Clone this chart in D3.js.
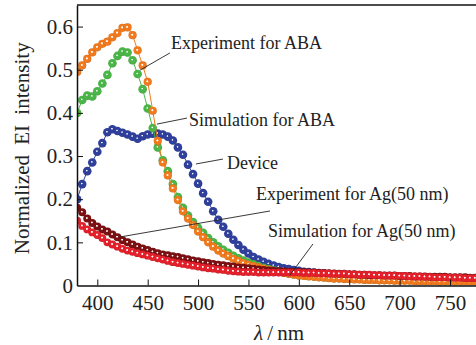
<!DOCTYPE html>
<html>
<head>
<meta charset="utf-8">
<script src="https://cdn.jsdelivr.net/npm/d3@7"></script>
<style>
  body { margin: 0; background: #fff; }
  svg { display: block; font-family: "Liberation Serif", "DejaVu Serif", serif; }
</style>
</head>
<body>
<script>
// wavelength grid (nm)
var wavelengths = [380,385,390,395,400,405,410,415,420,425,430,435,440,445,450,455,460,465,470,475,
  480,485,490,495,500,505,510,515,520,525,530,535,540,545,550,555,560,565,570,575,
  580,585,590,595,600,605,610,615,620,625,630,635,640,645,650,655,660,665,670,675,
  680,685,690,695,700,705,710,715,720,725,730,735,740,745,750,755,760,765,770,775];

var expABA = [0.495,0.51,0.525,0.54,0.552,0.56,0.565,0.575,0.585,0.597,0.598,0.58,0.545,0.51,0.472,0.405,0.335,0.285,0.255,0.225,
  0.198,0.172,0.155,0.14,0.125,0.112,0.1,0.09,0.081,0.074,0.068,0.062,0.057,0.052,0.048,0.045,0.042,0.039,0.036,0.034,
  0.031,0.029,0.027,0.025,0.023,0.022,0.021,0.02,0.019,0.018,0.017,0.016,0.016,0.015,0.015,0.014,0.014,0.013,0.013,0.013,
  0.012,0.012,0.012,0.011,0.011,0.011,0.011,0.010,0.010,0.010,0.010,0.010,0.009,0.009,0.009,0.009,0.009,0.009,0.009,0.009];

var simABA = [0.40,0.43,0.44,0.438,0.45,0.468,0.488,0.515,0.532,0.542,0.54,0.522,0.49,0.455,0.41,0.365,0.32,0.29,0.265,0.235,
  0.205,0.18,0.162,0.147,0.134,0.122,0.11,0.1,0.091,0.083,0.076,0.069,0.063,0.058,0.053,0.049,0.045,0.041,0.038,0.035,
  0.032,0.03,0.028,0.026,0.024,0.023,0.022,0.021,0.02,0.019,0.018,0.017,0.017,0.016,0.016,0.015,0.015,0.014,0.014,0.014,
  0.013,0.013,0.013,0.012,0.012,0.012,0.012,0.011,0.011,0.011,0.011,0.011,0.010,0.010,0.010,0.010,0.010,0.010,0.010,0.010];

var device = [0.2,0.235,0.265,0.285,0.31,0.33,0.355,0.362,0.358,0.354,0.35,0.345,0.34,0.346,0.35,0.352,0.352,0.35,0.345,0.336,
  0.32,0.303,0.28,0.258,0.236,0.214,0.194,0.172,0.152,0.136,0.12,0.106,0.094,0.083,0.074,0.066,0.06,0.055,0.05,0.046,
  0.043,0.04,0.038,0.036,0.034,0.032,0.031,0.03,0.029,0.028,0.027,0.026,0.025,0.025,0.024,0.023,0.023,0.022,0.022,0.021,
  0.021,0.020,0.020,0.020,0.019,0.019,0.019,0.018,0.018,0.018,0.018,0.017,0.017,0.017,0.017,0.016,0.016,0.016,0.016,0.016];

var expAg = [0.18,0.17,0.155,0.145,0.137,0.13,0.125,0.118,0.112,0.105,0.1,0.095,0.09,0.086,0.082,0.078,0.075,0.072,0.07,0.068,
  0.066,0.063,0.061,0.058,0.056,0.054,0.052,0.05,0.048,0.047,0.045,0.044,0.042,0.041,0.04,0.039,0.037,0.036,0.035,0.034,
  0.033,0.033,0.032,0.032,0.031,0.031,0.030,0.030,0.029,0.029,0.028,0.028,0.027,0.027,0.026,0.026,0.025,0.025,0.024,0.024,
  0.024,0.023,0.023,0.023,0.022,0.022,0.022,0.021,0.021,0.021,0.020,0.020,0.020,0.020,0.019,0.019,0.019,0.019,0.018,0.018];

var simAg = [0.15,0.138,0.13,0.123,0.117,0.11,0.1,0.095,0.09,0.085,0.081,0.078,0.075,0.072,0.069,0.066,0.063,0.06,0.057,0.054,
  0.052,0.05,0.048,0.046,0.044,0.042,0.04,0.039,0.037,0.036,0.034,0.033,0.032,0.031,0.031,0.031,0.030,0.030,0.030,0.030,
  0.030,0.030,0.030,0.030,0.030,0.029,0.029,0.029,0.028,0.028,0.028,0.027,0.027,0.027,0.026,0.026,0.025,0.025,0.025,0.024,
  0.024,0.023,0.023,0.023,0.022,0.022,0.021,0.021,0.021,0.020,0.020,0.019,0.019,0.019,0.018,0.018,0.018,0.017,0.017,0.017];

var xTicks = [400,450,500,550,600,650,700,750];
var yTicks = [0,0.1,0.2,0.3,0.4,0.5,0.6];

// draw order: first at the back; hole = size of the white highlight
var seriesList = [
  {name: "device", values: device, color: "#2f3f9c", r: 4.3, hole: 7},
  {name: "simABA", values: simABA, color: "#4bb648", r: 4.3, hole: 7},
  {name: "expABA", values: expABA, color: "#f27a1c", r: 4.1, hole: 13},
  {name: "expAg", values: expAg, color: "#7c0f12", r: 4, hole: 11},
  {name: "simAg", values: simAg, color: "#e5202b", r: 3.9, hole: 13}
];

// annotation text + leader line, in data units
var notes = [
  {text: "Experiment for ABA", at: [473.1, 0.562], from: [472.1, 0.539], to: [442.4, 0.499]},
  {text: "Simulation for ABA", at: [491, 0.3835], from: [489, 0.388], to: [459.2, 0.374]},
  {text: "Device", at: [528.7, 0.285], from: [524.7, 0.293], to: [497.9, 0.2816]},
  {text: "Experiment for Ag(50 nm)", at: [557.5, 0.212], from: [571.4, 0.1727], to: [422.5, 0.1124]},
  {text: "Simulation for Ag(50 nm)", at: [569.4, 0.1263], from: [614, 0.0962], to: [591.2, 0.0243]}
];

var W = 476, H = 345;
var margin = {top: 5, right: 0, bottom: 59.5, left: 77};

var svg = d3.select("body").append("svg")
    .attr("width", W)
    .attr("height", H);

var x = d3.scaleLinear().domain([379.85, 775.8]).range([margin.left, W - margin.right]);
var y = d3.scaleLinear().domain([0, 0.65]).range([H - margin.bottom, margin.top]);

// ball gradients
var defs = svg.append("defs");
seriesList.forEach(function(s) {
  var g = defs.append("radialGradient")
      .attr("id", "g-" + s.name)
      .attr("cx", "50%").attr("cy", "50%").attr("r", "55%")
      .attr("fx", "44%").attr("fy", "42%");
  g.append("stop").attr("offset", "0%").attr("stop-color", "#fff");
  g.append("stop").attr("offset", s.hole + "%").attr("stop-color", "#fff").attr("stop-opacity", 0.95);
  g.append("stop").attr("offset", (s.hole + 18) + "%").attr("stop-color", s.color);
  g.append("stop").attr("offset", "75%").attr("stop-color", s.color);
  g.append("stop").attr("offset", "100%").attr("stop-color", d3.color(s.color).darker(0.6));
});

defs.append("clipPath").attr("id", "plot")
  .append("rect")
    .attr("x", margin.left).attr("y", margin.top)
    .attr("width", W - margin.left).attr("height", H - margin.bottom - margin.top);

var plot = svg.append("g").attr("clip-path", "url(#plot)");

var line = d3.line()
    .x(function(d, i) { return x(wavelengths[i]); })
    .y(function(d) { return y(d); });

seriesList.forEach(function(s) {
  var g = plot.append("g");
  g.append("path")
      .attr("d", line(s.values))
      .attr("fill", "none")
      .attr("stroke", s.color)
      .attr("stroke-width", 1);
  g.selectAll("circle")
      .data(s.values)
    .enter().append("circle")
      .attr("cx", function(d, i) { return x(wavelengths[i]); })
      .attr("cy", function(d) { return y(d); })
      .attr("r", s.r)
      .attr("fill", "url(#g-" + s.name + ")");
});

// axes, ticks pointing inward
var xAxis = svg.append("g")
    .attr("transform", "translate(0," + y(0) + ")")
    .call(d3.axisBottom(x).tickValues(xTicks).tickSizeInner(-6).tickSizeOuter(0).tickPadding(10));
var yAxis = svg.append("g")
    .attr("transform", "translate(" + margin.left + ",0)")
    .call(d3.axisLeft(y).tickValues(yTicks).tickSizeInner(-6).tickSizeOuter(0).tickPadding(4)
      .tickFormat(function(d) { return d === 0 ? "0" : d3.format(".1f")(d); }));

[xAxis, yAxis].forEach(function(a) {
  a.select(".domain").attr("stroke", "#111").attr("stroke-width", 1.5);
  a.selectAll(".tick line").attr("stroke", "#111").attr("stroke-width", 1);
  a.selectAll(".tick text").attr("font-size", 21).attr("fill", "#222")
    .attr("font-family", "Liberation Serif, serif");
});
yAxis.selectAll(".tick").filter(function(d) { return d === 0; }).select("line").remove();

// top frame line
svg.append("line")
    .attr("x1", margin.left).attr("x2", W)
    .attr("y1", margin.top).attr("y2", margin.top)
    .attr("stroke", "#111").attr("stroke-width", 1.5);

// annotations
notes.forEach(function(n) {
  svg.append("line")
      .attr("x1", x(n.from[0])).attr("y1", y(n.from[1]))
      .attr("x2", x(n.to[0])).attr("y2", y(n.to[1]))
      .attr("stroke", "#222").attr("stroke-width", 0.9);
  svg.append("text")
      .attr("x", x(n.at[0])).attr("y", y(n.at[1]))
      .attr("dy", "0.35em")
      .attr("font-size", 18)
      .attr("fill", "#222")
      .text(n.text);
});

// axis titles
svg.append("text")
    .attr("transform", "translate(29," + ((margin.top + y(0)) / 2 + 3) + ") rotate(-90)")
    .attr("text-anchor", "middle")
    .attr("font-size", 21)
    .attr("word-spacing", 5)
    .attr("fill", "#222")
    .text("Normalized EI intensity");

var xt = svg.append("text")
    .attr("x", 279).attr("y", 340)
    .attr("text-anchor", "middle")
    .attr("font-size", 21)
    .attr("fill", "#222");
xt.append("tspan").attr("font-style", "italic").text("λ");
xt.append("tspan").text("\u2009/\u2009nm");
</script>
</body>
</html>
